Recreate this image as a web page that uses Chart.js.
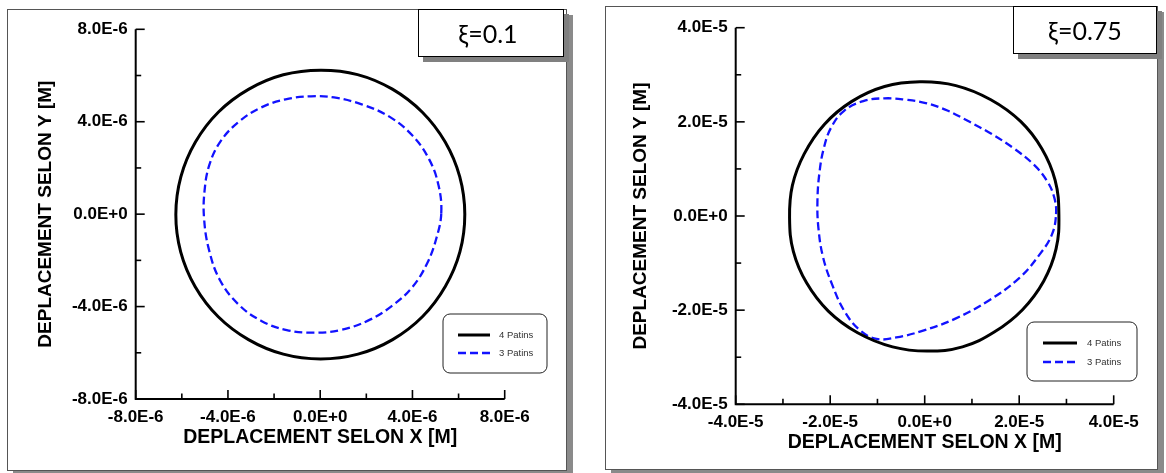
<!DOCTYPE html>
<html><head><meta charset="utf-8">
<script src="https://cdn.jsdelivr.net/npm/chart.js@4"></script>
<style>
html,body{margin:0;padding:0;background:#fff;}
body{width:1166px;height:473px;position:relative;overflow:hidden;font-family:"Liberation Sans",Arial,sans-serif;}
.panel{position:absolute;box-sizing:border-box;border:1px solid #555;background:#fff;box-shadow:6px 6px 0 #8a8a8a;}
.xi{position:absolute;box-sizing:border-box;border:1.5px solid #000;background:#fff;box-shadow:5px 5px 0 #808080;font-family:Lato,"Open Sans",sans-serif;font-size:25px;display:flex;align-items:center;justify-content:center;color:#000;}
canvas{position:absolute;}
</style></head>
<body>
<div class="panel" style="left:7px;top:9px;width:560px;height:462px;"></div>
<div class="panel" style="left:605px;top:6px;width:553px;height:464px;"></div>
<canvas id="c1" width="560" height="462" style="left:7px;top:9px;width:560px;height:462px;"></canvas>
<canvas id="c2" width="553" height="464" style="left:605px;top:6px;width:553px;height:464px;"></canvas>
<div class="xi" id="t1" style="left:418px;top:9px;width:146px;height:48px;padding-right:6px;"></div>
<div class="xi" id="t2" style="left:1013px;top:6px;width:144px;height:48px;"></div>
<script>
// ---------- DATA ----------
const seriesLabels = ['4 Patins', '3 Patins'];
const xTitle = 'DEPLACEMENT SELON X [M]';
const yTitle = 'DEPLACEMENT SELON Y [M]';
const leftTitle = 'ξ=0.1';
const rightTitle = 'ξ=0.75';

// Left panel (xi = 0.1), values in units of 1E-6 m (closed loops)
const leftUnit = 1e-6;
const left4x = [6.27, 6.05, 5.42, 4.43, 3.13, 1.62, 0.02, -1.60, -3.11, -4.41, -5.41, -6.04, -6.26, -6.05, -5.42, -4.42, -3.11, -1.60, 0.02, 1.64, 3.14, 4.44, 5.43, 6.06];
const left4y = [0.00, 1.62, 3.12, 4.41, 5.41, 6.04, 6.23, 6.03, 5.40, 4.42, 3.12, 1.62, -0.02, -1.63, -3.14, -4.44, -5.43, -6.06, -6.27, -6.06, -5.43, -4.43, -3.12, -1.62];
const left3x = [5.25, 5.13, 4.72, 4.00, 3.00, 1.80, 0.60, -0.40, -1.50, -2.55, -3.50, -4.30, -4.80, -5.02, -5.03, -4.82, -4.35, -3.55, -2.55, -1.45, -0.30, 0.85, 2.05, 3.10, 4.00, 4.65, 5.05];
const left3y = [0.05, 1.25, 2.38, 3.40, 4.22, 4.75, 5.05, 5.10, 4.97, 4.62, 4.02, 3.18, 2.15, 0.95, -0.25, -1.55, -2.85, -3.90, -4.62, -5.02, -5.13, -5.02, -4.62, -3.98, -3.15, -2.10, -1.00];
const leftMajorTicks = [-8, -4, 0, 4, 8];
const leftMinorTicks = [-6, -2, 2, 6];

// Right panel (xi = 0.75), values in units of 1E-5 m (closed loops)
const rightUnit = 1e-5;
const right4x = [2.84, 2.76, 2.48, 2.03, 1.40, 0.66, -0.10, -0.85, -1.55, -2.12, -2.55, -2.80, -2.86, -2.78, -2.50, -2.04, -1.42, -0.68, 0.05, 0.80, 1.48, 2.07, 2.52, 2.78];
const right4y = [0.03, 0.76, 1.43, 2.01, 2.47, 2.77, 2.85, 2.75, 2.43, 1.95, 1.32, 0.65, -0.04, -0.75, -1.42, -2.02, -2.48, -2.78, -2.87, -2.78, -2.46, -1.99, -1.38, -0.70];
const right3x = [2.78, 2.74, 2.58, 2.30, 1.88, 1.42, 0.95, 0.48, 0.02, -0.40, -0.85, -1.30, -1.70, -1.98, -2.14, -2.23, -2.27, -2.25, -2.15, -1.95, -1.70, -1.38, -1.02, -0.60, -0.05, 0.65, 1.35, 2.00, 2.43, 2.69];
const right3y = [0.04, 0.40, 0.76, 1.10, 1.44, 1.74, 2.00, 2.24, 2.40, 2.47, 2.50, 2.44, 2.24, 1.88, 1.42, 0.90, 0.32, -0.25, -0.88, -1.48, -2.02, -2.42, -2.61, -2.58, -2.44, -2.18, -1.80, -1.32, -0.82, -0.40];
const rightMajorTicks = [-4, -2, 0, 2, 4];
const rightMinorTicks = [-3, -1, 1, 3];

document.getElementById('t1').textContent = leftTitle;
document.getElementById('t2').textContent = rightTitle;

// ---------- HELPERS ----------
const fmt = v => (Math.abs(v) < 1e-20 ? 0 : v).toExponential(1).toUpperCase();
const pts = (xs, ys, u) => xs.map((x, i) => ({x: x * u, y: ys[i] * u}));

const closeLoops = {
  id: 'closeLoops',
  afterDatasetsUpdate(chart) {
    chart.data.datasets.forEach((ds, i) => {
      const line = chart.getDatasetMeta(i).dataset;
      if (line) { line._loop = true; line._fullLoop = true; delete line._segments; delete line._path; line._pointsUpdated = false; }
    });
  }
};

const innerAxes = {
  id: 'innerAxes',
  afterDatasetsDraw(chart, args, o) {
    const {ctx, chartArea: a, scales: {x, y}} = chart;
    ctx.save();
    ctx.strokeStyle = '#000';
    ctx.lineWidth = 2;
    ctx.beginPath();
    ctx.moveTo(a.left, a.top); ctx.lineTo(a.left, a.bottom); ctx.lineTo(a.right, a.bottom);
    ctx.stroke();
    ctx.lineWidth = 1.6;
    const drawX = (vals, len) => vals.forEach(v => {
      const p = x.getPixelForValue(v);
      ctx.beginPath(); ctx.moveTo(p, a.bottom); ctx.lineTo(p, a.bottom - len); ctx.stroke();
    });
    const drawY = (vals, len) => vals.forEach(v => {
      const p = y.getPixelForValue(v);
      ctx.beginPath(); ctx.moveTo(a.left, p); ctx.lineTo(a.left + len, p); ctx.stroke();
    });
    drawX(o.major, 9); drawX(o.minor, 5.5);
    drawY(o.major, 9); drawY(o.minor, 5.5);
    ctx.restore();
  }
};

const boxLegend = {
  id: 'boxLegend',
  afterDraw(chart, args, o) {
    const ctx = chart.ctx;
    ctx.save();
    const {x, y, w, h, r} = o;
    ctx.beginPath();
    ctx.moveTo(x + r, y);
    ctx.arcTo(x + w, y, x + w, y + h, r);
    ctx.arcTo(x + w, y + h, x, y + h, r);
    ctx.arcTo(x, y + h, x, y, r);
    ctx.arcTo(x, y, x + w, y, r);
    ctx.closePath();
    ctx.fillStyle = '#fff'; ctx.fill();
    ctx.strokeStyle = '#222'; ctx.lineWidth = 1; ctx.stroke();
    chart.data.datasets.forEach((ds, i) => {
      const ry = o.rows[i];
      ctx.beginPath();
      ctx.strokeStyle = ds.borderColor;
      ctx.lineWidth = ds.borderWidth;
      ctx.setLineDash(ds.borderDash || []);
      ctx.moveTo(o.s0, ry); ctx.lineTo(o.s1, ry); ctx.stroke();
      ctx.setLineDash([]);
      ctx.fillStyle = '#333';
      ctx.font = '9.5px "Liberation Sans", Arial, sans-serif';
      ctx.textBaseline = 'middle';
      ctx.textAlign = 'left';
      ctx.fillText(ds.label, o.tx, ry);
    });
    ctx.restore();
  }
};

function makeChart(id, unit, x4, y4, x3, y3, major, minor, L) {
  const majorV = major.map(v => v * unit);
  const minorV = minor.map(v => v * unit);
  const tickFont = {family: '"Liberation Sans", Arial, sans-serif', weight: 'bold', size: 17};
  const common = (title, tsize, pad, fitFn) => ({
    type: 'linear',
    min: majorV[0], max: majorV[majorV.length - 1],
    grid: {display: false, drawTicks: false},
    border: {display: false},
    afterBuildTicks: s => { s.ticks = majorV.map(v => ({value: v})); },
    afterFit: fitFn,
    ticks: {autoSkip: false, maxRotation: 0, minRotation: 0, padding: 8, color: '#000', font: tickFont, callback: v => fmt(v)},
    title: {display: true, text: title, color: '#000', font: {family: '"Liberation Sans", Arial, sans-serif', weight: 'bold', size: tsize}, padding: pad}
  });
  return new Chart(document.getElementById(id), {
    type: 'scatter',
    data: {datasets: [
      {label: seriesLabels[0], data: pts(x4, y4, unit), showLine: true, spanGaps: true, borderColor: '#000', borderWidth: 3, pointRadius: 0, tension: 0.4, fill: false},
      {label: seriesLabels[1], data: pts(x3, y3, unit), showLine: true, spanGaps: true, borderColor: '#1212ff', borderWidth: 2.3, borderDash: [8, 4], pointRadius: 0, tension: 0.4, fill: false}
    ]},
    options: {
      responsive: false, animation: false, devicePixelRatio: 1,
      layout: {padding: L.padding},
      plugins: {legend: {display: false}, tooltip: {enabled: false},
        innerAxes: {major: majorV, minor: minorV},
        boxLegend: L.legend},
      scales: {
        x: common(xTitle, 19.5, {top: L.xt, bottom: L.xt}, s => { s.height = L.xh; }),
        y: common(yTitle, 19, {top: L.yt, bottom: L.yt}, s => { s.width = L.yw; })
      }
    },
    plugins: [closeLoops, innerAxes, boxLegend]
  });
}

makeChart('c1', leftUnit, left4x, left4y, left3x, left3y, leftMajorTicks, leftMinorTicks, {
  padding: {left: 0, top: 20.3, right: 62.3, bottom: 0},
  xh: 72, yw: 128.7, xt: 21.3, yt: 27.6,
  legend: {x: 436, y: 305, w: 104, h: 59, r: 7, s0: 451, s1: 483, tx: 492, rows: [326, 344]}
});
makeChart('c2', rightUnit, right4x, right4y, right3x, right3y, rightMajorTicks, rightMinorTicks, {
  padding: {left: 0, top: 21.7, right: 44.3, bottom: 0},
  xh: 65.7, yw: 130.7, xt: 15.3, yt: 24.6,
  legend: {x: 422, y: 316, w: 110, h: 59, r: 7, s0: 438, s1: 472, tx: 482, rows: [337, 356]}
});
</script>
</body></html>
